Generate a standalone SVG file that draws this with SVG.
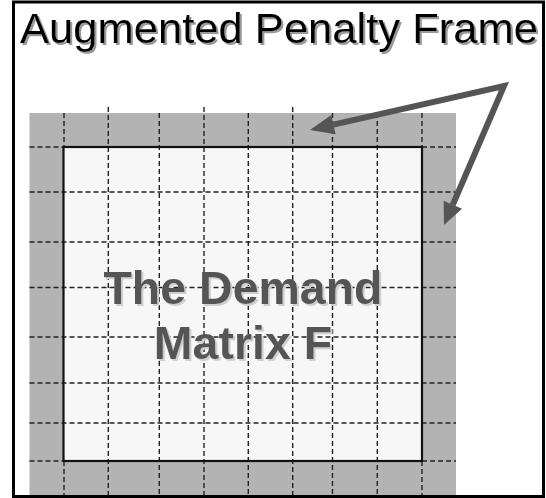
<svg xmlns="http://www.w3.org/2000/svg" width="546" height="498" viewBox="0 0 546 498">
  <defs>
    <filter id="shadow-title" x="-5%" y="-20%" width="110%" height="140%">
      <feOffset in="SourceAlpha" dx="2" dy="2" result="off"/>
      <feFlood flood-color="#9a9a9a"/>
      <feComposite in2="off" operator="in" result="sh"/>
      <feMerge><feMergeNode in="sh"/><feMergeNode in="SourceGraphic"/></feMerge>
    </filter>
    <filter id="shadow-big" x="-5%" y="-20%" width="110%" height="140%">
      <feOffset in="SourceAlpha" dx="1.5" dy="1.5" result="off"/>
      <feFlood flood-color="#cfcfcf"/>
      <feComposite in2="off" operator="in" result="sh"/>
      <feMerge><feMergeNode in="sh"/><feMergeNode in="SourceGraphic"/></feMerge>
    </filter>
  </defs>
  <style>
    .title { font-family: "Liberation Sans", Arial, sans-serif; font-size: 42px; fill: #000000; }
    .big { font-family: "Liberation Sans", Arial, sans-serif; font-size: 46.5px; font-weight: bold; fill: #555555; text-anchor: middle; }
    .grid { stroke: #222222; stroke-width: 1.4; stroke-dasharray: 5 3; fill: none; }
    .arrow { stroke: #555555; stroke-width: 6; fill: none; stroke-linejoin: miter; stroke-miterlimit: 10; }
    .head { fill: #555555; }
  </style>
  <rect x="0" y="0" width="546" height="498" fill="#ffffff"/>
  <g id="penalty-frame">
    <rect x="29.5" y="113" width="426.5" height="385" fill="#b3b3b3"/>
  </g>
  <g id="demand-matrix">
    <rect x="63.5" y="147" width="358.5" height="314" fill="#f7f7f7"/>
  </g>
  <g id="grid">
    <line class="grid" x1="64" y1="113" x2="64" y2="147"/>
    <line class="grid" x1="64" y1="461" x2="64" y2="496"/>
    <line class="grid" x1="422" y1="113" x2="422" y2="147"/>
    <line class="grid" x1="422" y1="461" x2="422" y2="496"/>
    <line class="grid" x1="108.3" y1="107" x2="108.3" y2="496"/>
    <line class="grid" x1="159.3" y1="113" x2="159.3" y2="496"/>
    <line class="grid" x1="204" y1="107" x2="204" y2="496"/>
    <line class="grid" x1="248.3" y1="113" x2="248.3" y2="496"/>
    <line class="grid" x1="292.7" y1="107" x2="292.7" y2="496"/>
    <line class="grid" x1="332.5" y1="113" x2="332.5" y2="496"/>
    <line class="grid" x1="377.3" y1="113" x2="377.3" y2="496"/>
    <line class="grid" x1="29.5" y1="147" x2="63.5" y2="147"/>
    <line class="grid" x1="422" y1="147" x2="456" y2="147"/>
    <line class="grid" x1="29.5" y1="192" x2="456" y2="192"/>
    <line class="grid" x1="29.5" y1="242" x2="456" y2="242"/>
    <line class="grid" x1="29.5" y1="287.5" x2="456" y2="287.5"/>
    <line class="grid" x1="29.5" y1="337" x2="456" y2="337"/>
    <line class="grid" x1="29.5" y1="383" x2="456" y2="383"/>
    <line class="grid" x1="29.5" y1="423" x2="456" y2="423"/>
    <line class="grid" x1="29.5" y1="461" x2="63.5" y2="461"/>
    <line class="grid" x1="422" y1="461" x2="456" y2="461"/>
  </g>
  <g id="demand-matrix-border">
    <rect x="63.5" y="147" width="358.5" height="314" fill="none" stroke="#111111" stroke-width="2.2"/>
  </g>
  <g id="matrix-label" filter="url(#shadow-big)">
    <text class="big" x="243" y="303.5">The Demand</text>
    <text class="big" x="243" y="359">Matrix F</text>
  </g>
  <g id="title" filter="url(#shadow-title)">
    <text class="title" x="20" y="43" textLength="518" lengthAdjust="spacingAndGlyphs">Augmented Penalty Frame</text>
  </g>
  <g id="connectors">
    <polyline class="arrow" points="333.4,124.6 504,86 452.8,204.8"/>
    <polygon class="head" points="310,130 335.6,134.3 331.2,114.9"/>
    <polygon class="head" points="444,225 462,208.8 443.6,200.8"/>
  </g>
  <g id="outer-border">
    <rect x="13.5" y="2" width="530" height="494.5" fill="none" stroke="#000000" stroke-width="3"/>
  </g>
</svg>
